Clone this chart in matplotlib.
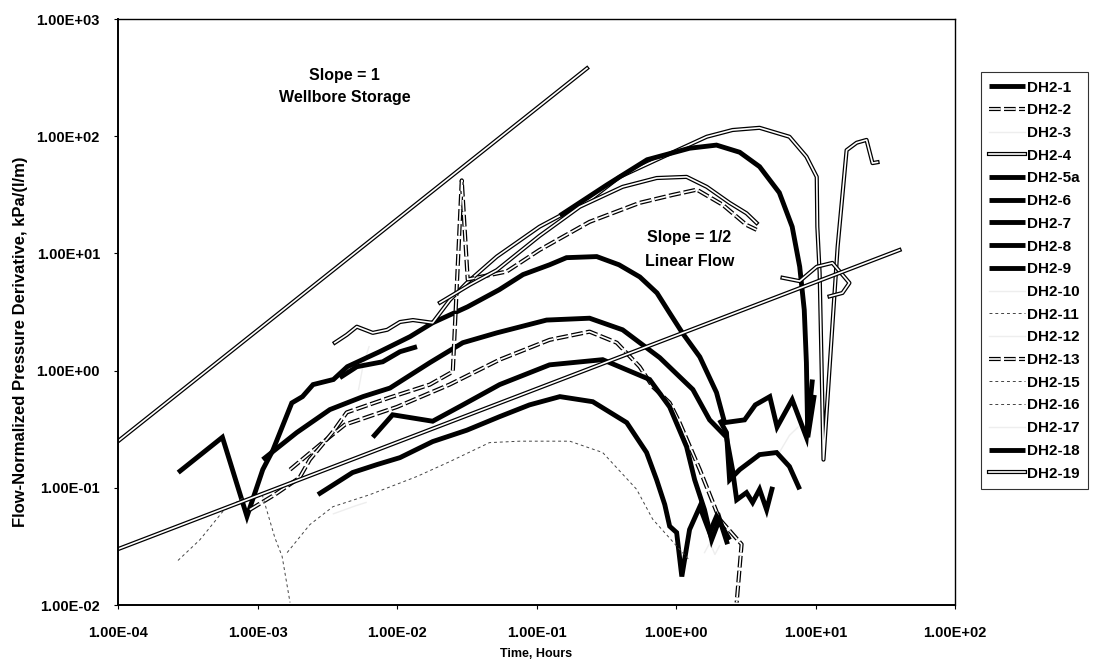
import numpy as np
import matplotlib
matplotlib.use('Agg')
import matplotlib.pyplot as plt
import matplotlib.patheffects as pe
from matplotlib.ticker import FuncFormatter, FixedLocator, NullLocator

plt.rcParams['font.family'] = ['Liberation Sans', 'DejaVu Sans']
plt.rcParams['font.weight'] = 'bold'
plt.rcParams['axes.labelweight'] = 'bold'

nan = np.nan

# axis decades
x_ticks = [1e-4, 1e-3, 1e-2, 1e-1, 1e0, 1e1, 1e2]
y_ticks = [1e-2, 1e-1, 1e0, 1e1, 1e2, 1e3]

# reference slopes (hours, kPa/(l/m))
wbs_t = [1.0e-4, 0.23]
wbs_d = [0.25, 380.0]
lin_t = [1.0e-4, 40.0]
lin_d = [0.03, 10.7]

# derivative data per test interval
dh2_1_t = [2.7e-4, 5.6e-4, 8.4e-4, 1.09e-3, 1.29e-3, 1.76e-3, 2.1e-3, 2.5e-3, 3.5e-3, 4.4e-3,
           7.5e-3, 1.24e-2, 1.8e-2, 3.2e-2, 5.4e-2, 8.0e-2, 0.124, 0.164, 0.27, 0.39,
           0.55, 0.73, 0.90, 1.11, 1.48, 1.95, 2.23, 3.1, 3.7, 4.7, 5.3, 6.8, 8.6, 9.5]
dh2_1_d = [0.135, 0.27, 0.057, 0.143, 0.21, 0.53, 0.60, 0.76, 0.84, 1.08,
           1.45, 1.95, 2.56, 3.5, 4.9, 6.6, 8.0, 9.2, 9.4, 8.0,
           6.3, 4.6, 3.1, 2.1, 1.31, 0.65, 0.36, 0.38, 0.51, 0.60, 0.33, 0.565, 0.27, 0.84]

dh2_2_t = [1.71e-3, 2.8e-3, 4.23e-3, 1.0e-2, 2.38e-2, 5.44e-2, 0.124, 0.24, 0.376, 0.548,
           0.68, 0.90, 1.06, 1.48, 2.05, 2.95, 2.72]
dh2_2_d = [0.143, 0.233, 0.346, 0.49, 0.76, 1.24, 1.83, 2.15, 1.73, 1.08,
           0.73, 0.532, 0.36, 0.143, 0.054, 0.033, 0.0105]

dh2_3_t = [5.3e-3, 5.7e-3, 6.3e-3]
dh2_3_d = [0.69, 1.1, 1.6]

dh2_4_t = [3.58e-3, 4.36e-3, 5.15e-3, 6.7e-3, 8.5e-3, 1.05e-2, 1.30e-2, 1.80e-2, 2.39e-2, 3.16e-2,
           5.19e-2, 0.105, 0.24, 0.394, 0.726, 1.66, 2.54, 3.97, 6.5, 8.6,
           10.2, 10.3, 10.7, 11.0, 11.4, 14.4, 16.7, 19.7, 23.2, 25.6, 27.8]
dh2_4_d = [1.73, 2.02, 2.37, 2.1, 2.23, 2.6, 2.7, 2.56, 4.0, 5.6,
           9.4, 16.9, 28.6, 45.0, 63.0, 99.0, 113.0, 118.0, 99.0, 67.0,
           45.0, 16.9, 6.8, 1.42, 0.174, 11.4, 76.0, 88.0, 93.0, 59.0, 60.0]

dh2_5a_t = [1.09e-3, 1.91e-3, 3.3e-3, 5.7e-3, 8.9e-3, 1.72e-2, 2.96e-2, 5.19e-2, 0.118, 0.24,
            0.414, 0.764, 1.32, 1.74, 2.30, 2.54, 2.72, 3.2, 3.54, 3.97, 4.46, 4.92]
dh2_5a_d = [0.174, 0.296, 0.465, 0.60, 0.71, 1.17, 1.73, 2.1, 2.7, 2.8,
            2.23, 1.29, 0.69, 0.38, 0.27, 0.143, 0.079, 0.091, 0.075, 0.097, 0.065, 0.102]

dh2_6_t = [6.7e-3, 9.3e-3, 1.8e-2, 2.96e-2, 5.44e-2, 0.124, 0.298, 0.647, 0.90, 1.19,
           1.36, 1.60, 1.80, 2.05, 2.34]
dh2_6_d = [0.27, 0.42, 0.37, 0.51, 0.76, 1.12, 1.24, 0.84, 0.49, 0.224,
           0.117, 0.065, 0.036, 0.054, 0.033]

dh2_7_t = [3.89e-3, 5.15e-3, 7.9e-3, 1.05e-2, 1.39e-2]
dh2_7_d = [0.87, 1.08, 1.19, 1.45, 1.60]

dh2_8_t = [2.71e-3, 4.8e-3, 7.2e-3, 1.05e-2, 1.8e-2, 3.16e-2, 5.44e-2, 8.9e-2, 0.147, 0.253,
           0.443, 0.615, 0.726, 0.83, 0.90, 1.01, 1.10, 1.25, 1.48, 1.74, 1.95, 2.42]
dh2_8_d = [0.0875, 0.135, 0.158, 0.181, 0.248, 0.31, 0.405, 0.51, 0.60, 0.543,
           0.36, 0.20, 0.117, 0.072, 0.047, 0.0415, 0.0175, 0.044, 0.069, 0.0415, 0.057, 0.036]

dh2_9_t = [2.05, 2.30, 2.42, 2.86, 3.97, 5.26, 6.5, 7.7]
dh2_9_d = [0.38, 0.296, 0.117, 0.143, 0.192, 0.20, 0.152, 0.097]

dh2_10_t = [1.6, 1.75, 1.9, 2.05]
dh2_10_d = [0.028, 0.034, 0.027, 0.032]

dh2_11_t = [2.69e-4, 3.86e-4, 5.65e-4, 8.1e-4]
dh2_11_d = [0.024, 0.036, 0.063, 0.084]

dh2_12_t = [5.5, 6.5, 7.5]
dh2_12_d = [0.2, 0.28, 0.33]

dh2_13_t = [8.8e-4, 1.33e-3, 2.0e-3, 2.37e-3, 3.47e-3, 4.36e-3, 8.9e-3, 1.72e-2, 2.51e-2, 2.91e-2,
            3.21e-2, 6.1e-2, 0.105, 0.24, 0.548, 0.95, 1.41, 2.16, 3.2, 3.78]
dh2_13_d = [0.065, 0.0875, 0.122, 0.174, 0.30, 0.44, 0.59, 0.76, 0.98, 42.0,
            6.0, 7.0, 10.7, 18.6, 27.0, 31.6, 35.0, 26.0, 17.5, 15.9]

dh2_15_t = [1.08e-3, 1.33e-3, 1.5e-3, 1.71e-3]
dh2_15_d = [0.0875, 0.0376, 0.026, 0.0105]

dh2_16_t = [1.63e-3, 2.37e-3, 3.47e-3, 6.4e-3, 1.39e-2, 2.38e-2, 4.6e-2, 7.6e-2, 0.173, 0.298,
            0.522, 0.68, 1.25]
dh2_16_d = [0.028, 0.0485, 0.069, 0.0875, 0.125, 0.167, 0.243, 0.25, 0.25, 0.20,
            0.097, 0.054, 0.024]

dh2_17_t = [3.5e-3, 5.0e-3, 6.0e-3]
dh2_17_d = [0.06, 0.07, 0.075]

dh2_18_t = [0.147, 0.32, 0.62, 1.25, 1.95, 2.86, 3.97, 5.5, 6.8, 7.7, 8.3, 8.6, 8.8, 9.8]
dh2_18_d = [21.0, 38.5, 63.0, 79.0, 84.0, 73.0, 55.0, 33.0, 16.9, 7.7, 3.3, 1.17, 0.27, 0.62]

dh2_19_t = [2.03e-2, 3.32e-2, 5.19e-2, 0.105, 0.204, 0.414, 0.726, 1.19, 1.66, 2.42,
            3.2, 3.78, nan, 5.8, 7.7, 10.2, 13.2, 17.5, 15.6, 12.6]
dh2_19_d = [3.8, 5.4, 7.2, 14.1, 25.0, 37.0, 44.0, 45.0, 37.0, 27.0,
            22.0, 18.2, nan, 6.2, 5.8, 7.7, 8.3, 5.6, 4.6, 4.3]

# line looks
thick = dict(color='black', lw=3.5, solid_capstyle='butt', solid_joinstyle='miter')
hollow = dict(color='white', lw=1.2,
              path_effects=[pe.withStroke(linewidth=3.0, foreground='black')])
hollow_dash = dict(color='white', lw=1.2, linestyle=(0, (7, 2)),
                   path_effects=[pe.withStroke(linewidth=3.0, foreground='black')])
thin_dash = dict(color='#444444', lw=0.7, linestyle=(0, (3, 3)))
faint = dict(color='#eeeeee', lw=1.0, zorder=1)

series = [
    ('DH2-1', dh2_1_t, dh2_1_d, thick),
    ('DH2-2', dh2_2_t, dh2_2_d, hollow_dash),
    ('DH2-3', dh2_3_t, dh2_3_d, faint),
    ('DH2-4', dh2_4_t, dh2_4_d, hollow),
    ('DH2-5a', dh2_5a_t, dh2_5a_d, thick),
    ('DH2-6', dh2_6_t, dh2_6_d, thick),
    ('DH2-7', dh2_7_t, dh2_7_d, thick),
    ('DH2-8', dh2_8_t, dh2_8_d, thick),
    ('DH2-9', dh2_9_t, dh2_9_d, thick),
    ('DH2-10', dh2_10_t, dh2_10_d, faint),
    ('DH2-11', dh2_11_t, dh2_11_d, thin_dash),
    ('DH2-12', dh2_12_t, dh2_12_d, faint),
    ('DH2-13', dh2_13_t, dh2_13_d, hollow_dash),
    ('DH2-15', dh2_15_t, dh2_15_d, thin_dash),
    ('DH2-16', dh2_16_t, dh2_16_d, thin_dash),
    ('DH2-17', dh2_17_t, dh2_17_d, faint),
    ('DH2-18', dh2_18_t, dh2_18_d, thick),
    ('DH2-19', dh2_19_t, dh2_19_d, hollow),
]

fig = plt.figure(figsize=(10.98, 6.68), dpi=100)
ax = fig.add_axes([0.1075, 0.0943, 0.7623, 0.8772])

handles = []
for name, t, d, style in series:
    h, = ax.plot(t, d, label=name, **style)
    handles.append(h)

# slope guides
ax.plot(wbs_t, wbs_d, **hollow)
ax.plot(lin_t, lin_d, **hollow)

ax.text(4.2e-3, 333, 'Slope = 1', ha='center', va='center', fontsize=11.5)
ax.text(4.2e-3, 212, 'Wellbore Storage', ha='center', va='center', fontsize=11.5)
ax.text(1.25, 13.6, 'Slope = 1/2', ha='center', va='center', fontsize=11.5)
ax.text(1.25, 8.5, 'Linear Flow', ha='center', va='center', fontsize=11.5)

ax.set_xscale('log')
ax.set_yscale('log')
ax.set_xlim(1e-4, 1e2)
ax.set_ylim(1e-2, 1e3)
ax.xaxis.set_major_locator(FixedLocator(x_ticks))
ax.yaxis.set_major_locator(FixedLocator(y_ticks))
ax.xaxis.set_minor_locator(NullLocator())
ax.yaxis.set_minor_locator(NullLocator())
sci = FuncFormatter(lambda v, pos: '%.2E' % v)
ax.xaxis.set_major_formatter(sci)
ax.yaxis.set_major_formatter(sci)
ax.tick_params(direction='out', length=3, width=0.8, labelsize=10.5)
ax.tick_params(axis='y', pad=10)
ax.tick_params(axis='x', pad=12)
for s in ax.spines.values():
    s.set_color('black')
    s.set_linewidth(1.0)
ax.spines['left'].set_linewidth(1.4)
ax.spines['bottom'].set_linewidth(1.4)

ax.set_xlabel('Time, Hours', fontsize=9, labelpad=6)
ax.set_ylabel('Flow-Normalized Pressure Derivative, kPa/(l/m)', fontsize=12)
ax.yaxis.set_label_coords(-0.107, 0.45)

leg = fig.legend(handles=handles, loc='upper left', bbox_to_anchor=(0.8935, 0.892),
                 fontsize=11, frameon=True, fancybox=False, edgecolor='black',
                 handlelength=2.3, handletextpad=0.15, labelspacing=0.57,
                 borderpad=0.55, borderaxespad=0)
leg.get_frame().set_linewidth(0.8)

fig.savefig('out.png', dpi=100)
